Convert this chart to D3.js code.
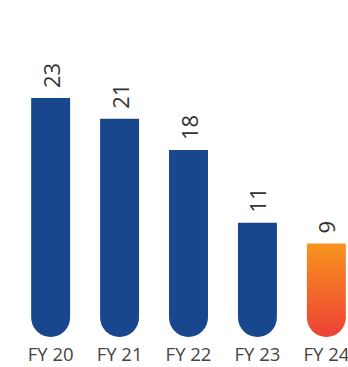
<!DOCTYPE html>
<html>
<head>
<meta charset="utf-8">
<script src="https://cdn.jsdelivr.net/npm/d3@7/dist/d3.min.js"></script>
<style>
  html, body { margin: 0; padding: 0; background: #ffffff; }
  svg { display: block; }
</style>
</head>
<body>
<script>
const categories = ["FY 20", "FY 21", "FY 22", "FY 23", "FY 24"];
const values = [23, 21, 18, 11, 9];
const highlight = [false, false, false, false, true];

const W = 348, H = 367;
const svg = d3.select("body").append("svg").attr("width", W).attr("height", H);

const defs = svg.append("defs");
const grad = defs.append("linearGradient").attr("id", "hl").attr("x1", 0).attr("y1", 0).attr("x2", 0).attr("y2", 1);
grad.append("stop").attr("offset", "0%").attr("stop-color", "#F7941D");
grad.append("stop").attr("offset", "100%").attr("stop-color", "#EE4136");

const x = d3.scaleBand().domain(categories).range([16, 361]).paddingInner(0.435).paddingOuter(0.22);
const y = d3.scaleLinear().domain([0, 23]).range([337, 98]);
const base = y(0);

function barPath(d, i) {
  const x0 = x(categories[i]), w = x.bandwidth(), r = w / 2;
  const top = y(d);
  return `M${x0},${top}L${x0 + w},${top}L${x0 + w},${base - r}A${r},${r} 0 0 1 ${x0},${base - r}Z`;
}

svg.append("g").selectAll("path").data(values).join("path")
  .attr("d", barPath)
  .attr("fill", (d, i) => highlight[i] ? "url(#hl)" : "#18478E");

svg.append("g").selectAll("text").data(values).join("text")
  .attr("transform", (d, i) => `translate(${x(categories[i]) + x.bandwidth() / 2 + 9},${y(d) - 10}) rotate(-90)`)
  .attr("text-anchor", "start")
  .attr("font-family", "Open Sans")
  .attr("font-size", 22)
  .attr("fill", "#333")
  .text(d => d);

const xAxis = d3.axisBottom(x).tickSize(0).tickPadding(11);
const gx = svg.append("g").attr("transform", `translate(0,${base})`).call(xAxis);
gx.select(".domain").remove();
gx.selectAll("text").attr("font-family", "Open Sans").attr("font-size", 18.5).attr("fill", "#444");
</script>
</body>
</html>
